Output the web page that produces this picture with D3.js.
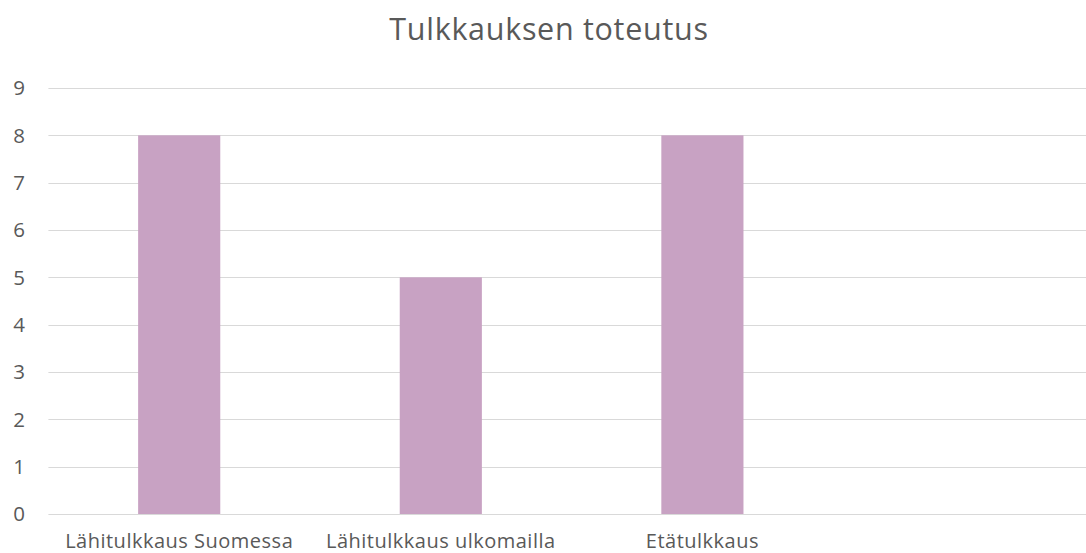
<!DOCTYPE html>
<html lang="fi">
<head>
	<meta charset="UTF-8">
	<title>Tulkkauksen toteutus</title>
	<script src="https://cdn.jsdelivr.net/npm/d3@7"></script>
	<style>
		body { margin: 0; background: #fff; }
		text { font-family: "Open Sans", "Noto Sans", sans-serif; fill: #595959; }
	</style>
</head>
<body>
	<div id="vis"></div>

	<script>
		var width = 1086;
		var height = 553;

		// chart data
		var categories = ["Lähitulkkaus Suomessa", "Lähitulkkaus ulkomailla", "Etätulkkaus", ""];
		var values = [8, 5, 8, null];
		var yTicks = [0, 1, 2, 3, 4, 5, 6, 7, 8, 9];
		var title = "Tulkkauksen toteutus";

		var margin = { top: 88, left: 48.4, bottom: 514 };
		var slot = 261.6;

		var svg = d3.select("#vis").append("svg")
			.attr("width", width)
			.attr("height", height);

		var x = d3.scaleBand()
			.domain(categories.map(function(d, i) { return i; }))
			.range([margin.left, margin.left + slot * categories.length])
			.paddingInner(0.686)
			.paddingOuter(0.343);

		var y = d3.scaleLinear()
			.domain([0, 9])
			.range([margin.bottom, margin.top]);

		// gridlines
		svg.append("g")
			.selectAll("line")
			.data(yTicks)
			.join("line")
			.attr("x1", margin.left)
			.attr("x2", margin.left + slot * categories.length)
			.attr("y1", function(d) { return Math.round(y(d)) + 0.5; })
			.attr("y2", function(d) { return Math.round(y(d)) + 0.5; })
			.attr("stroke", "#d9d9d9")
			.attr("stroke-width", 1.2);

		// y labels
		svg.append("g")
			.selectAll("text")
			.data(yTicks)
			.join("text")
			.attr("x", 25)
			.attr("y", function(d) { return y(d); })
			.attr("dy", "0.36em")
			.attr("text-anchor", "end")
			.attr("font-size", 20.5)
			.text(function(d) { return d; });

		// bars
		svg.append("g")
			.selectAll("rect")
			.data(values.map(function(v, i) { return { i: i, v: v }; }).filter(function(d) { return d.v != null; }))
			.join("rect")
			.attr("x", function(d) { return x(d.i); })
			.attr("width", x.bandwidth())
			.attr("y", function(d) { return y(d.v); })
			.attr("height", function(d) { return y(0) - y(d.v); })
			.attr("fill", "#c8a2c3");

		// category labels
		svg.append("g")
			.selectAll("text")
			.data(categories)
			.join("text")
			.attr("x", function(d, i) { return x(i) + x.bandwidth() / 2; })
			.attr("y", 548)
			.attr("text-anchor", "middle")
			.attr("font-size", 20)
			.attr("letter-spacing", 0.5)
			.text(function(d) { return d; });

		// title
		svg.append("text")
			.attr("x", 549)
			.attr("y", 40)
			.attr("text-anchor", "middle")
			.attr("font-size", 30.5)
			.attr("letter-spacing", 0.7)
			.text(title);
	</script>
</body>
</html>
